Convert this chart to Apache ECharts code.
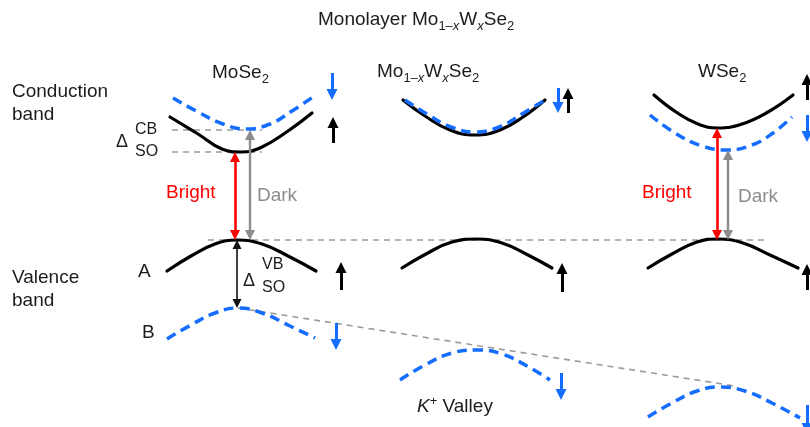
<!DOCTYPE html>
<html>
<head>
<meta charset="utf-8">
<script src="https://cdn.jsdelivr.net/npm/echarts@6/dist/echarts.min.js"></script>
<style>
  html, body { margin: 0; padding: 0; background: #fff; }
  #chart { width: 810px; height: 427px; }
</style>
</head>
<body>
<div id="chart"></div>
<script>
// Band edges near the K+ valley, sampled as [k, E] (E axis runs downward).
// Conduction bands
const mose2CbDown = [[173,98],[198,112],[223,124],[246,129],[270,124],[292,111],[313,97]];
const mose2CbUp   = [[170,117],[198,134],[222,149],[241,152],[262,147],[288,131],[312,113]];
const alloyCbUp   = [[403,100],[425,116],[450,130],[475,135],[500,130],[523,117],[545,100]];
const alloyCbDown = [[405,100],[427,114],[451,127],[475,132],[499,127],[522,114],[545,100]];
const wse2CbUp    = [[654,95],[676,112],[698,124],[718,128],[742,124],[768,112],[793,95]];
const wse2CbDown  = [[650,115],[675,133],[702,146],[728,150],[752,145],[773,133],[792,117]];
// Valence bands: A (spin up) and B (spin down)
const mose2VbA = [[167,271],[191,256],[215,244],[237,240],[262,244],[290,257],[316,271]];
const alloyVbA = [[402,268],[426,254],[452,242],[477,239],[502,243],[528,255],[552,268]];
const wse2VbA  = [[648,268],[672,254],[697,242],[718,239],[743,243],[770,255],[798,268]];
const mose2VbB = [[167,339],[191,325],[215,313],[238,308],[262,313],[290,326],[315,338]];
const alloyVbB = [[400,380],[425,365],[452,353],[477,350],[502,354],[527,366],[550,380]];
const wse2VbB  = [[648,417],[672,403],[697,391],[720,387],[745,391],[772,403],[800,418]];

// Guide lines [[k0, E0], [k1, E1]]
const cbSplitGuides = [[[172,130],[262,130]], [[172,152],[262,152]]];
const vbTopGuide    = [[[208,240],[765,240]]];
const bTrendGuide   = [[[238,308],[735,386]]];

// Vertical arrows [k, E_tail, E_head]
const spinUpArrows   = [[333,143,117],[568,113,88],[807,100,74],[341,290,262],[562,292,263],[807,290,264]];
const spinDownArrows = [[332,73,100],[558,88,113],[807,115,142],[336,323,350],[561,373,400],[807,405,434]];
// Double-headed transitions [k, E_top, E_bottom]
const brightArrows = [[235,152,240],[717,128,240]];
const darkArrows   = [[250,130,240],[728,150,240]];
const vbSplitArrow = [[237,240,308]];

const BLUE = '#156dff';
const FONT = '"Liberation Sans", Arial, Helvetica, sans-serif';
const INK = '#1c1c1c';

function band(data, dashed) {
  return {
    type: 'line', data: data, smooth: 0.45, showSymbol: false, silent: true,
    lineStyle: dashed
      ? { color: BLUE, width: 3.5, type: [10, 6], cap: 'butt' }
      : { color: '#000', width: 3.2, cap: 'round' },
    z: dashed ? 3 : 2
  };
}

function guide(segs) {
  return {
    type: 'lines', coordinateSystem: 'cartesian2d', silent: true,
    data: segs.map(s => ({ coords: s })), symbol: 'none',
    lineStyle: { color: '#9a9a9a', width: 1.6, type: [6, 5], opacity: 1 }, z: 1
  };
}

// Arrowheads are centred on the line end, so pull the end in by half the head.
function arrows(list, color, width, head, both) {
  return {
    type: 'lines', coordinateSystem: 'cartesian2d', silent: true,
    data: list.map(([k, a, b]) => {
      const dir = Math.sign(b - a);
      const a2 = both ? a + dir * head / 2 : a;
      const b2 = b - dir * head / 2;
      return { coords: [[k, a2], [k, b2]] };
    }),
    symbol: both ? ['triangle', 'triangle'] : ['none', 'triangle'],
    symbolSize: head,
    lineStyle: { color: color, width: width, opacity: 1, type: 'solid' },
    itemStyle: { color: color },
    z: 4
  };
}

function label(x, y, text, opts) {
  opts = opts || {};
  return {
    type: 'text', x: x, y: y, silent: true,
    style: Object.assign({
      text: text, fill: INK, font: (opts.size || 19) + 'px ' + FONT,
      align: 'left', verticalAlign: 'middle'
    }, opts.style || {})
  };
}

function richSet(size) {
  const sub = Math.round(size * 0.68);
  return {
    n:  { fontSize: size, fontFamily: FONT, fill: INK, lineHeight: size + 6, verticalAlign: 'middle' },
    s:  { fontSize: sub, fontFamily: FONT, fill: INK, lineHeight: sub + 1, verticalAlign: 'bottom' },
    si: { fontSize: sub, fontFamily: FONT, fill: INK, lineHeight: sub + 1, verticalAlign: 'bottom', fontStyle: 'italic' },
    ni: { fontSize: size, fontFamily: FONT, fill: INK, lineHeight: size + 6, verticalAlign: 'middle', fontStyle: 'italic' },
    sp: { fontSize: sub, fontFamily: FONT, fill: INK, lineHeight: sub + 1, verticalAlign: 'top' }
  };
}

function richLabel(x, y, text, size) {
  return {
    type: 'text', x: x, y: y, silent: true,
    style: { text: text, rich: richSet(size), align: 'left', verticalAlign: 'middle', fill: INK,
             font: size + 'px ' + FONT }
  };
}

const chart = echarts.init(document.getElementById('chart'), null, { renderer: 'canvas' });

chart.setOption({
  animation: false,
  backgroundColor: '#fff',
  grid: { left: 0, right: 0, top: 0, bottom: 0 },
  xAxis: { type: 'value', min: 0, max: 810, show: false },
  yAxis: { type: 'value', min: 0, max: 427, inverse: true, show: false },
  series: [
    guide(cbSplitGuides), guide(vbTopGuide), guide(bTrendGuide),
    band(mose2CbUp, false), band(mose2CbDown, true),
    band(alloyCbUp, false), band(alloyCbDown, true),
    band(wse2CbUp, false), band(wse2CbDown, true),
    band(mose2VbA, false), band(alloyVbA, false), band(wse2VbA, false),
    band(mose2VbB, true), band(alloyVbB, true), band(wse2VbB, true),
    arrows(brightArrows, '#ff0000', 2.6, 10, true),
    arrows(darkArrows, '#8c8c8c', 2.4, 10, true),
    arrows(vbSplitArrow, '#111', 1.6, 9, true),
    arrows(spinUpArrows, '#000', 3, 11, false),
    arrows(spinDownArrows, BLUE, 3, 11, false)
  ],
  graphic: [
    richLabel(318, 20, '{n|Monolayer Mo}{s|1\u2013}{si|x}{n|W}{si|x}{n|Se}{s|2}', 19),
    richLabel(212, 73, '{n|MoSe}{s|2}', 19),
    richLabel(377, 72, '{n|Mo}{s|1\u2013}{si|x}{n|W}{si|x}{n|Se}{s|2}', 19),
    richLabel(698, 72, '{n|WSe}{s|2}', 19),
    label(12, 92, 'Conduction'),
    label(12, 115, 'band'),
    label(12, 278, 'Valence'),
    label(12, 301, 'band'),
    label(138, 272, 'A'),
    label(142, 333, 'B'),
    label(116, 142, '\u0394', { size: 18 }),
    label(135, 130, 'CB', { size: 16 }),
    label(135, 152, 'SO', { size: 16 }),
    label(243, 281, '\u0394', { size: 18 }),
    label(262, 265, 'VB', { size: 16 }),
    label(262, 288, 'SO', { size: 16 }),
    label(166, 193, 'Bright', { style: { fill: '#ff0000' } }),
    label(257, 196, 'Dark', { style: { fill: '#8c8c8c' } }),
    label(642, 193, 'Bright', { style: { fill: '#ff0000' } }),
    label(738, 197, 'Dark', { style: { fill: '#8c8c8c' } }),
    richLabel(417, 407, '{ni|K}{sp|+}{n| Valley}', 19)
  ]
});
</script>
</body>
</html>
